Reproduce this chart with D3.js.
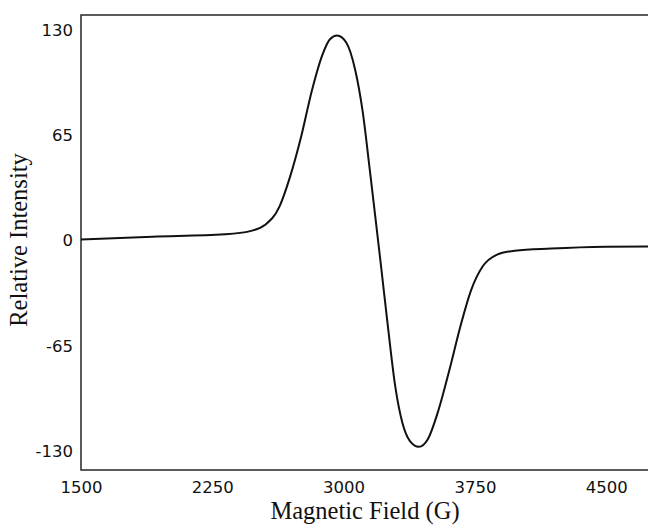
<!DOCTYPE html>
<html>
<head>
<meta charset="utf-8">
<script src="https://cdn.jsdelivr.net/npm/d3@7"></script>
<style>
  html, body { margin: 0; padding: 0; background: #fff; }
  svg { display: block; }
</style>
</head>
<body>
<svg id="chart" width="648" height="527"></svg>
<script>
// Magnetic field (G)
const field = [1500, 1908, 2322, 2467, 2550, 2633, 2694, 2757, 2819, 2881, 2922, 2963, 3015, 3067, 3108, 3150, 3181, 3212, 3253, 3295, 3336, 3378, 3430, 3481, 3543, 3605, 3667, 3729, 3794, 3874, 3978, 4185, 4500, 4760];
// Relative intensity
const intensity = [0.3, 2.0, 3.5, 5.5, 9.2, 20.5, 39, 63.6, 92.4, 115, 124, 126.3, 122, 104.7, 80, 43, 14.4, -14.4, -53.4, -90.4, -113, -124, -127.7, -123, -104.7, -80, -53.4, -30.8, -16.4, -9.2, -6.6, -5.3, -4.2, -4.0];
const xTicks = [1500, 2250, 3000, 3750, 4500];
const yTicks = [130, 65, 0, -65, -130];

const svg = d3.select("#chart");
const plotLeft = 81, plotTop = 15, plotBottom = 470;

const x = d3.scaleLinear().domain([1500, 5000]).range([plotLeft, plotLeft + 3500 * 131.3 / 750]);
const y = d3.scaleLinear().domain([-130, 130]).range([450.5, 29.5]);

const data = field.map((f, i) => ({ f, v: intensity[i] }));

// frame
svg.append("rect")
  .attr("x", plotLeft).attr("y", plotTop)
  .attr("width", x(5000) - plotLeft).attr("height", plotBottom - plotTop)
  .attr("fill", "none").attr("stroke", "#333").attr("stroke-width", 1.6);

// curve
const line = d3.line().x(d => x(d.f)).y(d => y(d.v)).curve(d3.curveMonotoneX);
svg.append("path").datum(data)
  .attr("d", line)
  .attr("fill", "none").attr("stroke", "#111").attr("stroke-width", 2);

const fmt = d => String(d);

// x axis labels
const xAxis = d3.axisBottom(x).tickValues(xTicks).tickSize(0).tickPadding(0).tickFormat(fmt);
const gx = svg.append("g").attr("transform", `translate(0,${plotBottom})`).call(xAxis);
gx.select(".domain").remove();
gx.selectAll("text")
  .attr("y", 23).attr("dy", null)
  .attr("font-family", "'DejaVu Sans', sans-serif").attr("font-size", 16.5).attr("fill", "#111");

// y axis labels
const yAxis = d3.axisLeft(y).tickValues(yTicks).tickSize(0).tickPadding(0).tickFormat(fmt);
const gy = svg.append("g").attr("transform", `translate(73,0)`).call(yAxis);
gy.select(".domain").remove();
gy.selectAll("text")
  .attr("x", 0).attr("dy", "0.36em")
  .attr("font-family", "'DejaVu Sans', sans-serif").attr("font-size", 16.5).attr("fill", "#111");

// axis titles
svg.append("text")
  .attr("x", 365).attr("y", 519)
  .attr("text-anchor", "middle")
  .attr("font-family", "'Liberation Serif', 'Times New Roman', serif")
  .attr("font-size", 24.5).attr("fill", "#111")
  .text("Magnetic Field (G)");

svg.append("text")
  .attr("transform", "translate(27,240) rotate(-90)")
  .attr("text-anchor", "middle")
  .attr("font-family", "'Liberation Serif', 'Times New Roman', serif")
  .attr("font-size", 24.5).attr("fill", "#111")
  .text("Relative Intensity");
</script>
</body>
</html>
